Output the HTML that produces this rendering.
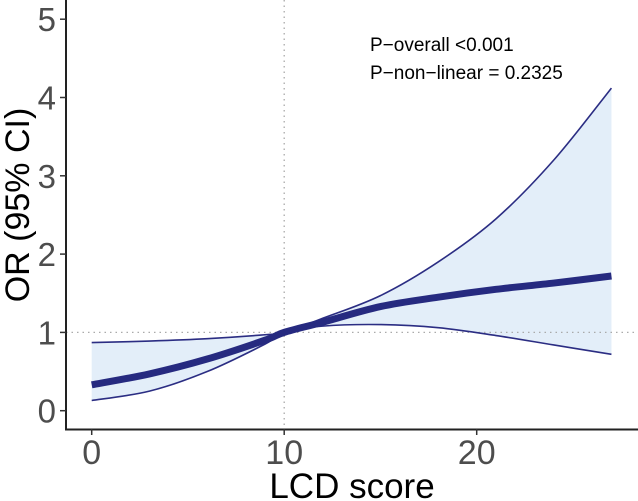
<!DOCTYPE html>
<html><head><meta charset="utf-8"><style>
html,body{margin:0;padding:0;background:#fff}
svg{display:block;font-family:"Liberation Sans",Arial,sans-serif}
</style></head><body>
<svg id="chart" width="638" height="501">
<g id="plot"></g>
<text x="370" y="51" font-size="19" fill="#000">P−overall &lt;0.001</text>
<text x="370" y="79" font-size="19" fill="#000">P−non−linear = 0.2325</text>
<text x="352" y="498" font-size="35" text-anchor="middle" fill="#000">LCD score</text>
<text transform="translate(29,205) rotate(-90)" font-size="34" text-anchor="middle" fill="#000">OR (95% CI)</text>
</svg>
<script>
const xs=[0,3,6,9,10,12,15,18,21,24,27];
const center=[0.33,0.47,0.66,0.90,1.0,1.13,1.33,1.45,1.55,1.63,1.72];
const upper=[0.87,0.89,0.92,0.97,1.0,1.18,1.47,1.9,2.45,3.2,4.12];
const lower=[0.13,0.25,0.5,0.85,1.0,1.08,1.1,1.06,0.96,0.84,0.72];
const xTicks=[0,10,20];
const yTicks=[0,1,2,3,4,5];
const X=v=>91.7+v*19.25;
const Y=v=>410.7-v*78.3;
const NS="http://www.w3.org/2000/svg";
const g=document.getElementById('plot');
function mk(t,a){const e=document.createElementNS(NS,t);for(const k in a)e.setAttribute(k,a[k]);g.appendChild(e);return e;}
function pts(arr){return xs.map((x,i)=>[X(x),Y(arr[i])]);}
function curve(p,move=true){let d=(move?'M':'L')+p[0][0]+','+p[0][1];
for(let i=0;i<p.length-1;i++){const p0=p[i-1]||p[i],p1=p[i],p2=p[i+1],p3=p[i+2]||p2;
d+=' C'+(p1[0]+(p2[0]-p0[0])/6)+','+(p1[1]+(p2[1]-p0[1])/6)+' '+(p2[0]-(p3[0]-p1[0])/6)+','+(p2[1]-(p3[1]-p1[1])/6)+' '+p2[0]+','+p2[1];}return d;}
const up=pts(upper),lo=pts(lower).reverse();
let e=mk('path',{d:curve(up)+' '+curve(lo,false)+' Z',fill:'#e3eef9',stroke:'none'});


e=mk('line',{x1:66,x2:638,y1:Y(1),y2:Y(1),stroke:'#aaa','stroke-dasharray':'1.5 4','stroke-width':1.3});


e=mk('line',{x1:X(10),x2:X(10),y1:0,y2:429,stroke:'#aaa','stroke-dasharray':'1.5 4','stroke-width':1.3});


e=mk('path',{d:curve(pts(upper)),fill:'none',stroke:'#2b2d83','stroke-width':1.6});


e=mk('path',{d:curve(pts(lower)),fill:'none',stroke:'#2b2d83','stroke-width':1.6});


e=mk('path',{d:curve(pts(center)),fill:'none',stroke:'#262a80','stroke-width':7});


e=mk('path',{d:'M66,0 V429.5 H638',fill:'none',stroke:'#222','stroke-width':2});


xTicks.forEach(t=>{
 let l=mk('line',{x1:X(t),x2:X(t),y1:429,y2:435,stroke:'#333','stroke-width':1.5});
 
 
 let tx=mk('text',{x:X(t),y:464,'font-size':34,'text-anchor':'middle',fill:'#4d4d4d'});tx.textContent=t;
 
 
});
yTicks.forEach(t=>{
 let l=mk('line',{x1:60,x2:66,y1:Y(t),y2:Y(t),stroke:'#333','stroke-width':1.5});
 
 
 let tx=mk('text',{x:56,y:Y(t)+12,'font-size':33,'text-anchor':'end',fill:'#4d4d4d'});tx.textContent=t;
 
 
});
</script>
</body></html>
